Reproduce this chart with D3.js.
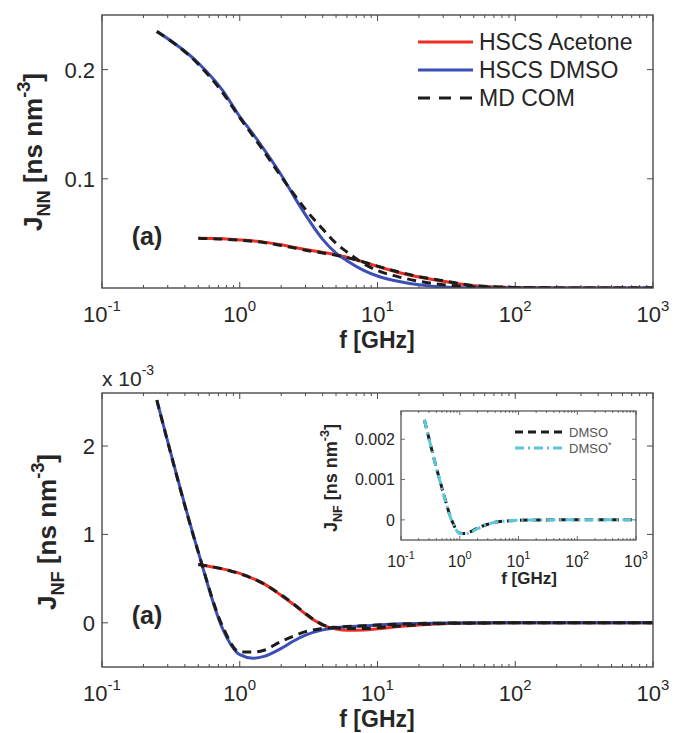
<!DOCTYPE html>
<html>
<head>
<meta charset="utf-8">
<script src="https://cdn.jsdelivr.net/npm/d3@7/dist/d3.min.js"></script>
<style>
  html, body { margin: 0; padding: 0; background: #fff; }
  svg { display: block; font-family: "Liberation Sans", Arial, Helvetica, sans-serif; }
  text { fill: #262626; }
</style>
</head>
<body>
<svg id="fig" width="675" height="733"></svg>
<script>
// ---- J_NN spectral densities (ns nm^-3) vs frequency (GHz) ----
const fNNDmso      = [0.25, 0.5, 0.75, 1, 1.25, 1.5, 2, 2.5, 3, 4, 5, 6, 8, 10, 15, 20, 30, 50, 100, 1000];
const nnHscsDmso   = [0.235, 0.206, 0.181, 0.157, 0.141, 0.127, 0.1035, 0.083, 0.067, 0.0445, 0.032, 0.025, 0.016, 0.011, 0.0055, 0.003, 0.0009, 0.0002, 0, 0];
const nnMdDmso     = [0.235, 0.205, 0.179, 0.156, 0.139, 0.125, 0.102, 0.085, 0.072, 0.054, 0.041, 0.033, 0.022, 0.016, 0.0095, 0.0062, 0.0030, 0.0010, 0.0002, 0];

const fNNAcetone   = [0.5, 0.75, 1, 1.5, 2, 2.5, 3, 4, 5, 6, 8, 10, 15, 20, 30, 50, 100, 200, 1000];
const nnHscsAcet   = [0.0455, 0.0450, 0.0440, 0.0420, 0.0396, 0.0372, 0.0352, 0.0326, 0.0305, 0.0282, 0.0236, 0.0198, 0.0135, 0.0100, 0.0062, 0.0020, 0.0004, 0.0001, 0];
const nnMdAcet     = [0.0455, 0.0448, 0.0437, 0.0416, 0.0390, 0.0366, 0.0346, 0.0321, 0.0300, 0.0278, 0.0236, 0.0200, 0.0140, 0.0104, 0.0066, 0.0022, 0.0005, 0.0001, 0];

// ---- J_NF cross spectral densities (ns nm^-3) ----
const fNFDmso      = [0.25, 0.5, 0.75, 1, 1.25, 1.5, 2, 2.5, 3, 4, 5, 6, 8, 10, 15, 20, 30, 50, 100, 1000];
const nfHscsDmso   = [2.52e-3, 0.80e-3, -0.065e-3, -0.36e-3, -0.40e-3, -0.38e-3, -0.29e-3, -0.20e-3, -0.14e-3, -0.080e-3, -0.055e-3, -0.046e-3, -0.035e-3, -0.025e-3, -0.012e-3, -0.007e-3, -0.003e-3, -0.001e-3, 0, 0];
const nfMdDmso     = [2.52e-3, 0.80e-3, -0.04e-3, -0.33e-3, -0.33e-3, -0.31e-3, -0.21e-3, -0.145e-3, -0.10e-3, -0.065e-3, -0.05e-3, -0.042e-3, -0.032e-3, -0.025e-3, -0.013e-3, -0.008e-3, -0.004e-3, -0.0015e-3, 0, 0];

const fNFAcetone   = [0.5, 0.75, 1, 1.25, 1.5, 2, 2.5, 3, 3.5, 4, 5, 6, 8, 10, 15, 20, 30, 50, 100, 1000];
const nfHscsAcet   = [0.66e-3, 0.61e-3, 0.56e-3, 0.50e-3, 0.44e-3, 0.31e-3, 0.20e-3, 0.10e-3, 0.025e-3, -0.025e-3, -0.070e-3, -0.085e-3, -0.082e-3, -0.068e-3, -0.040e-3, -0.025e-3, -0.010e-3, -0.003e-3, 0, 0];
const nfMdAcet     = [0.66e-3, 0.61e-3, 0.555e-3, 0.50e-3, 0.44e-3, 0.315e-3, 0.205e-3, 0.105e-3, 0.03e-3, -0.02e-3, -0.055e-3, -0.065e-3, -0.065e-3, -0.055e-3, -0.035e-3, -0.022e-3, -0.009e-3, -0.003e-3, 0, 0];

// ---- inset: DMSO vs DMSO* ----
const fInset       = [0.25, 0.5, 0.75, 1, 1.25, 1.5, 2, 3, 4, 6, 10, 20, 50, 1000];
const insetDmso    = [0.00248, 0.00078, -0.00005, -0.00033, -0.00034, -0.00030, -0.00021, -0.00011, -0.00006, -0.00003, -0.000012, -0.000004, 0, 0];
const insetDmsoS   = [0.00248, 0.00077, -0.00006, -0.00034, -0.00035, -0.00031, -0.00022, -0.00011, -0.00006, -0.00003, -0.00001, -0.000004, 0, 0];

// ---- ticks ----
const xMajorExp    = [-1, 0, 1, 2, 3];
const yTicksNN     = [0.1, 0.2];
const yTicksNF     = [0, 1e-3, 2e-3];
const yTicksInset  = [0, 0.001, 0.002];
const legendMain   = ["HSCS Acetone", "HSCS DMSO", "MD COM"];

const RED = "#ec2f22", BLUE = "#3d4fb6", BLACK = "#1c1c1c", CYAN = "#5cc7da";
const FRAME = "#4a4a4a";

const svg = d3.select("#fig");
const zip = (fs, vs) => fs.map((f, i) => [f, vs[i]]);

function frameAndTicks(g, x, y, yTicks, opt) {
  const [x0, x1] = x.range(), [y0, y1] = y.range();
  g.append("rect").attr("x", x0).attr("y", y1).attr("width", x1 - x0).attr("height", y0 - y1)
    .attr("fill", "#fff").attr("stroke", "none");
  const tk = g.append("g").attr("stroke", FRAME).attr("stroke-width", opt.tw || 1);
  x.ticks().forEach(v => {
    const major = Math.abs(Math.log10(v) - Math.round(Math.log10(v))) < 1e-9;
    const len = major ? opt.major : opt.minor;
    const px = x(v);
    tk.append("line").attr("x1", px).attr("x2", px).attr("y1", y0).attr("y2", y0 - len);
    tk.append("line").attr("x1", px).attr("x2", px).attr("y1", y1).attr("y2", y1 + len);
  });
  yTicks.forEach(v => {
    const py = y(v);
    tk.append("line").attr("x1", x0).attr("x2", x0 + opt.major).attr("y1", py).attr("y2", py);
    tk.append("line").attr("x1", x1).attr("x2", x1 - opt.major).attr("y1", py).attr("y2", py);
  });
}

function frameBorder(g, x, y, w) {
  const [x0, x1] = x.range(), [y0, y1] = y.range();
  g.append("rect").attr("x", x0).attr("y", y1).attr("width", x1 - x0).attr("height", y0 - y1)
    .attr("fill", "none").attr("stroke", FRAME).attr("stroke-width", w);
}

function xPowLabels(g, x, baseY, size) {
  xMajorExp.forEach(e => {
    const t = g.append("text").attr("x", x(Math.pow(10, e))).attr("y", baseY)
      .attr("text-anchor", "middle").style("font-size", size + "px");
    t.append("tspan").text("10");
    t.append("tspan").attr("dy", -size * 0.5).style("font-size", (size * 0.68) + "px").text(String(e));
  });
}

function yLabels(g, x, y, ticks, fmt, size, gap) {
  ticks.forEach(v => {
    g.append("text").attr("x", x.range()[0] - gap).attr("y", y(v) + size * 0.36)
      .attr("text-anchor", "end").style("font-size", size + "px").text(fmt(v));
  });
}

function yTitle(g, cx, cy, sub, size) {
  const t = g.append("text").attr("transform", `translate(${cx},${cy}) rotate(-90)`)
    .attr("text-anchor", "middle").style("font-size", size + "px").style("font-weight", "bold");
  t.append("tspan").text("J");
  t.append("tspan").attr("dy", size * 0.3).style("font-size", (size * 0.7) + "px").text(sub);
  t.append("tspan").attr("dy", -size * 0.3).text(" [ns nm");
  t.append("tspan").attr("dy", -size * 0.45).style("font-size", (size * 0.7) + "px").text("-3");
  t.append("tspan").attr("dy", size * 0.45).text("]");
}

function drawLine(g, x, y, pts, color, width, dash) {
  const line = d3.line().x(d => x(d[0])).y(d => y(d[1])).curve(d3.curveMonotoneX);
  const p = g.append("path").datum(pts).attr("d", line).attr("fill", "none")
    .attr("stroke", color).attr("stroke-width", width)
    .attr("stroke-linejoin", "round");
  if (dash) p.attr("stroke-dasharray", dash);
  return p;
}

// ================= Panel 1: J_NN =================
const xTop = d3.scaleLog().domain([0.1, 1000]).range([102, 653]);
const yTop = d3.scaleLinear().domain([0, 0.25]).range([288, 15]);
const gTop = svg.append("g");
frameAndTicks(gTop, xTop, yTop, yTicksNN, { major: 6, minor: 3, tw: 1 });
svg.append("clipPath").attr("id", "clipTop").append("rect")
  .attr("x", 102).attr("y", 15).attr("width", 551).attr("height", 273);
const gTopData = gTop.append("g").attr("clip-path", "url(#clipTop)");
drawLine(gTopData, xTop, yTop, zip(fNNAcetone, nnHscsAcet), RED, 3);
drawLine(gTopData, xTop, yTop, zip(fNNDmso, nnHscsDmso), BLUE, 3);
drawLine(gTopData, xTop, yTop, zip(fNNAcetone, nnMdAcet), BLACK, 3, "9,6");
drawLine(gTopData, xTop, yTop, zip(fNNDmso, nnMdDmso), BLACK, 3, "9,6");
frameBorder(gTop, xTop, yTop, 1.4);
xPowLabels(gTop, xTop, 322, 22);
yLabels(gTop, xTop, yTop, yTicksNN, d3.format(".1f"), 22, 7);
gTop.append("text").attr("x", 377).attr("y", 348).attr("text-anchor", "middle")
  .style("font-size", "23px").style("font-weight", "bold").text("f [GHz]");
yTitle(gTop, 42, 152, "NN", 26);
gTop.append("text").attr("x", 147).attr("y", 245).attr("text-anchor", "middle")
  .style("font-size", "25px").style("font-weight", "bold").text("(a)");

// legend
const legColors = [RED, BLUE, BLACK];
const legDash = [null, null, "12,9"];
legendMain.forEach((name, i) => {
  const cy = 42 + i * 28;
  const l = gTop.append("line").attr("x1", 418).attr("x2", 473).attr("y1", cy).attr("y2", cy)
    .attr("stroke", legColors[i]).attr("stroke-width", 3);
  if (legDash[i]) l.attr("stroke-dasharray", legDash[i]);
  gTop.append("text").attr("x", 479).attr("y", cy + 8).style("font-size", "23px").text(name);
});

// ================= Panel 2: J_NF =================
const xBot = d3.scaleLog().domain([0.1, 1000]).range([102, 653]);
const yBot = d3.scaleLinear().domain([-0.0005, 0.0026]).range([667, 393]);
const gBot = svg.append("g");
frameAndTicks(gBot, xBot, yBot, yTicksNF, { major: 6, minor: 3, tw: 1 });
svg.append("clipPath").attr("id", "clipBot").append("rect")
  .attr("x", 102).attr("y", 393).attr("width", 551).attr("height", 274);
const gBotData = gBot.append("g").attr("clip-path", "url(#clipBot)");
drawLine(gBotData, xBot, yBot, zip(fNFAcetone, nfHscsAcet), RED, 3);
drawLine(gBotData, xBot, yBot, zip(fNFDmso, nfHscsDmso), BLUE, 3);
drawLine(gBotData, xBot, yBot, zip(fNFAcetone, nfMdAcet), BLACK, 3, "9,6");
drawLine(gBotData, xBot, yBot, zip(fNFDmso, nfMdDmso), BLACK, 3, "9,6");
frameBorder(gBot, xBot, yBot, 1.4);
xPowLabels(gBot, xBot, 701, 22);
yLabels(gBot, xBot, yBot, yTicksNF, v => d3.format("d")(Math.round(v * 1000)), 22, 7);
gBot.append("text").attr("x", 377).attr("y", 727).attr("text-anchor", "middle")
  .style("font-size", "23px").style("font-weight", "bold").text("f [GHz]");
yTitle(gBot, 56, 532, "NF", 26);
gBot.append("text").attr("x", 147).attr("y", 624).attr("text-anchor", "middle")
  .style("font-size", "25px").style("font-weight", "bold").text("(a)");
{
  const t = gBot.append("text").attr("x", 102).attr("y", 386).style("font-size", "21px");
  t.append("tspan").text("x 10");
  t.append("tspan").attr("dy", -11).style("font-size", "14px").text("-3");
}

// ================= Inset =================
const xIn = d3.scaleLog().domain([0.1, 1000]).range([401, 636]);
const yIn = d3.scaleLinear().domain([-0.0005, 0.0027]).range([540, 411]);
const gIn = svg.append("g");
frameAndTicks(gIn, xIn, yIn, yTicksInset, { major: 4, minor: 2, tw: 0.8 });
svg.append("clipPath").attr("id", "clipIn").append("rect")
  .attr("x", 401).attr("y", 411).attr("width", 235).attr("height", 129);
const gInData = gIn.append("g").attr("clip-path", "url(#clipIn)");
drawLine(gInData, xIn, yIn, zip(fInset, insetDmso), BLACK, 3, "8,5");
drawLine(gInData, xIn, yIn, zip(fInset, insetDmsoS), CYAN, 3, "9,4,2,4");
frameBorder(gIn, xIn, yIn, 1.2);
xPowLabels(gIn, xIn, 567, 16);
yLabels(gIn, xIn, yIn, yTicksInset, v => v === 0 ? "0" : d3.format(".3f")(v), 16, 6);
gIn.append("text").attr("x", 529).attr("y", 584).attr("text-anchor", "middle")
  .style("font-size", "17px").style("font-weight", "bold").text("f [GHz]");
yTitle(gIn, 337, 478, "NF", 18);

// inset legend
const inLeg = [["DMSO", BLACK, "8,5"], ["DMSO", CYAN, "9,4,2,4"]];
inLeg.forEach((d, i) => {
  const cy = 432 + i * 16;
  gIn.append("line").attr("x1", 515).attr("x2", 566).attr("y1", cy).attr("y2", cy)
    .attr("stroke", d[1]).attr("stroke-width", 3).attr("stroke-dasharray", d[2]);
  const t = gIn.append("text").attr("x", 569).attr("y", cy + 5)
    .style("font-size", "13px").style("fill", "#555").text(d[0]);
  if (i === 1) t.append("tspan").attr("dy", -5).style("font-size", "9px").text("*");
});
</script>
</body>
</html>
